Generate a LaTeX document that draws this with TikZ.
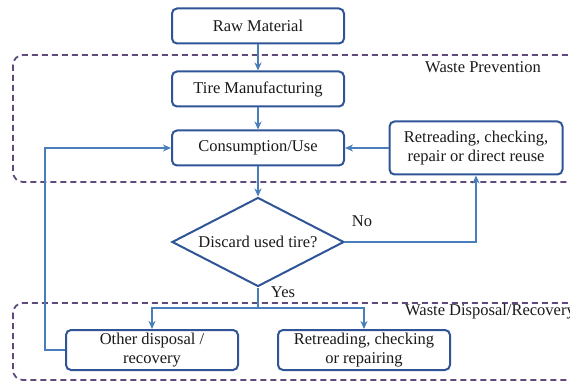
\documentclass[tikz,border=0pt]{standalone}
\usepackage{fontspec}
\setmainfont{Liberation Serif}
\usetikzlibrary{arrows.meta,shapes.geometric}
\definecolor{boxblue}{HTML}{2F5597}
\definecolor{lineblue}{HTML}{4A7EBB}
\definecolor{zonepurple}{HTML}{604A7B}
\definecolor{txt}{HTML}{1A1A1A}
\tikzset{
  procbox/.style={draw=boxblue, line width=2pt, rounded corners=5pt, fill=white,
    minimum width=172pt, minimum height=35pt, align=center, text=txt,
    font=\fontsize{16.5}{18.5}\selectfont, inner sep=1pt},
  decbox/.style={draw=boxblue, line width=2pt, diamond, aspect=1.95, fill=white,
    minimum width=172pt, minimum height=89pt, inner sep=0pt, text=txt,
    font=\fontsize{16.5}{18.5}\selectfont},
  conn/.style={draw=lineblue, line width=1.7pt, -{Stealth[length=8pt,width=7pt,inset=2.5pt]}},
  plainconn/.style={draw=lineblue, line width=1.7pt},
  zone/.style={draw=zonepurple, line width=1.8pt, dash pattern=on 6pt off 4pt, rounded corners=10pt},
  lbl/.style={text=txt, font=\fontsize{16.5}{18.5}\selectfont, inner sep=0pt},
}
\begin{document}
\begin{tikzpicture}[x=1pt,y=-1pt]
\useasboundingbox (0,0) rectangle (570,382);
% zones
\draw[zone] (13,55) rectangle (600,182);
\draw[zone] (13,303) rectangle (600,380);
\node[lbl] (wp) at (483,67) {Waste Prevention};
\node[lbl, anchor=west] (wd) at (405,312) {Waste Disposal/Recovery};
% nodes
\node[procbox] (raw) at (258,26) {Raw Material};
\node[procbox] (tire) at (258,89) {Tire Manufacturing};
\node[procbox] (cons) at (258,148) {Consumption/Use};
\node[procbox, minimum width=173pt, minimum height=53pt] (retr) at (476,148) {Retreading, checking,\\repair or direct reuse};
\node[decbox] (dec) at (258,242) {Discard used tire?};
\node[procbox, minimum height=40pt, font=\fontsize{16.5}{19}\selectfont] (other) at (152,350) {Other disposal /\\recovery};
\node[procbox, minimum height=40pt, font=\fontsize{16.5}{19}\selectfont] (rep) at (364,350) {Retreading, checking\\or repairing};
% connectors
\draw[conn] (raw) -- (tire);
\draw[conn] (tire) -- (cons);
\draw[conn] (retr) -- (cons);
\draw[conn] (cons) -- (dec);
\draw[conn] (dec.east) -| (retr.south);
\node[lbl] (no) at (362,221) {No};
\coordinate (split) at (258,308);
\draw[plainconn] (dec.south) -- (split);
\draw[conn] (split) -| (other.north);
\draw[conn] (split) -| (rep.north);
\node[lbl] (yes) at (283,292) {Yes};
\coordinate (fb1) at (45,350);
\coordinate (fb2) at (45,148);
\draw[conn] (other.west) -- (fb1) -- (fb2) -- (cons.west);
\end{tikzpicture}
\end{document}
